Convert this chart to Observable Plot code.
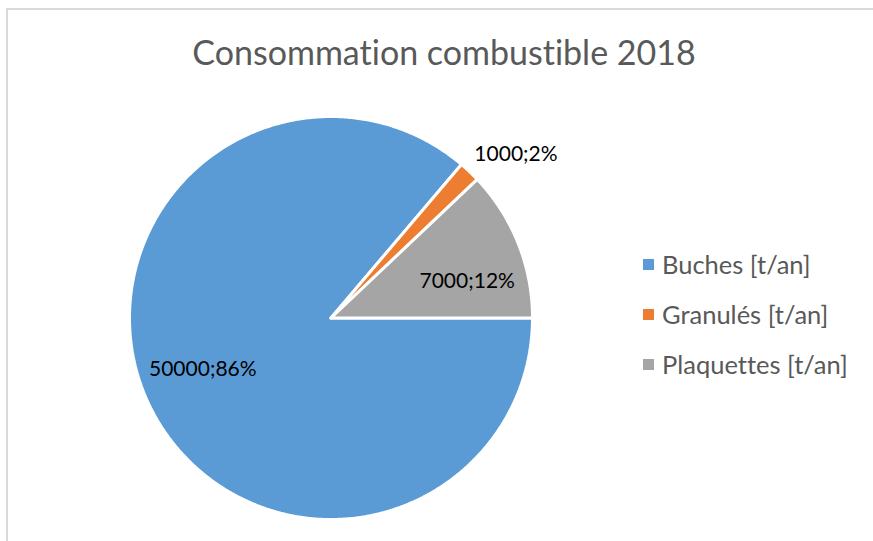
<!DOCTYPE html>
<html><head><meta charset="utf-8">
<script src="https://cdn.jsdelivr.net/npm/d3@7"></script>
<script src="https://cdn.jsdelivr.net/npm/@observablehq/plot@0.6"></script>
<style>
html,body{margin:0;padding:0;background:#fff;overflow:hidden;width:873px;height:541px;position:relative}
body{font-variant-ligatures:none}
#frame{position:absolute;left:6px;top:8px;width:1000px;height:1000px;border-left:2px solid #d9d9d9;border-top:2px solid #d9d9d9;box-sizing:border-box}
#chart{position:absolute;left:0;top:0}
#chart text{font-variant-ligatures:none}
#title{position:absolute;left:0;width:888px;top:35px;text-align:center;font-family:Lato,sans-serif;font-size:34px;line-height:1;color:#595959;white-space:nowrap;font-variant-ligatures:none}
#legend{position:absolute;left:643px;top:239px;width:300px;white-space:nowrap}
#legend *{white-space:nowrap}
</style></head>
<body>
<div id="frame"></div>
<div id="chart"></div>
<div id="title"></div>
<div id="legend"></div>
<script>
// ---- data ----
const title = "Consommation combustible 2018";
const categories = ["Buches [t/an]", "Granulés [t/an]", "Plaquettes [t/an]"];
const values = [50000, 1000, 7000];
const colors = ["#5B9BD5", "#ED7D31", "#A5A5A5"];

// ---- layout ----
const W = 873, H = 541;
const cx = 330.5, cy = 317.5, R = 201.5;

const total = d3.sum(values);
const arcs = d3.pie().sort(null)
  .startAngle(Math.PI / 2).endAngle(Math.PI / 2 + 2 * Math.PI)(values);

// slice outlines (unit circle, y up)
const rows = [];
arcs.forEach((a, i) => {
  const cat = categories[i];
  rows.push({cat, x: 0, y: 0});
  const n = Math.max(2, Math.ceil((a.endAngle - a.startAngle) / (Math.PI / 360)));
  for (let k = 0; k <= n; k++) {
    const t = a.startAngle + (a.endAngle - a.startAngle) * k / n;
    rows.push({cat, x: Math.sin(t), y: Math.cos(t)});
  }
  rows.push({cat, x: 0, y: 0});
});

// labels (best-fit style placement)
const labels = arcs.map((a, i) => {
  const mid = (a.startAngle + a.endAngle) / 2;
  const share = values[i] / total;
  const outside = share < 0.05;
  const r = outside ? 1.1 : 0.69;
  const shiftY = outside ? 0.015 : (i === 0 ? 0.035 : -0.075);
  const shiftX = outside ? -0.045 : (i === 0 ? -0.01 : 0.035);
  return {
    text: `${values[i]};${Math.round(share * 100)}%`,
    x: r * Math.sin(mid) + shiftX,
    y: r * Math.cos(mid) + shiftY,
    anchor: outside ? "start" : "middle"
  };
});

const chart = Plot.plot({
  width: W, height: H,
  margin: 0,
  style: {background: "transparent", overflow: "visible"},
  x: {domain: [-1, 1], range: [cx - R, cx + R], axis: null},
  y: {domain: [-1, 1], range: [cy + R, cy - R], axis: null},
  color: {domain: categories, range: colors},
  marks: [
    Plot.line(rows, {x: "x", y: "y", z: "cat", fill: "cat", stroke: "white", strokeWidth: 3, strokeLinejoin: "miter"}),
    Plot.text(labels.filter(d => d.anchor === "middle"), {x: "x", y: "y", text: "text", fontSize: 21, fill: "black", fontFamily: "Lato", textAnchor: "middle"}),
    Plot.text(labels.filter(d => d.anchor === "start"), {x: "x", y: "y", text: "text", fontSize: 21, fill: "black", fontFamily: "Lato", textAnchor: "start"})
  ]
});
document.getElementById("chart").append(chart);
document.getElementById("title").textContent = title;

const legend = Plot.legend({
  color: {domain: categories, range: colors},
  legend: "swatches",
  swatchSize: 11,
  style: {
    fontFamily: "Lato, sans-serif",
    fontSize: "25.5px",
    color: "#595959",
    lineHeight: "50px",
    display: "flex",
    flexDirection: "column",
    alignItems: "flex-start",
    flexWrap: "nowrap",
    whiteSpace: "nowrap",
    minHeight: "0",
    margin: "0",
    background: "transparent"
  }
});
legend.querySelectorAll("svg").forEach(s => { s.style.marginRight = "8px"; });
document.getElementById("legend").append(legend);
</script>
</body></html>
